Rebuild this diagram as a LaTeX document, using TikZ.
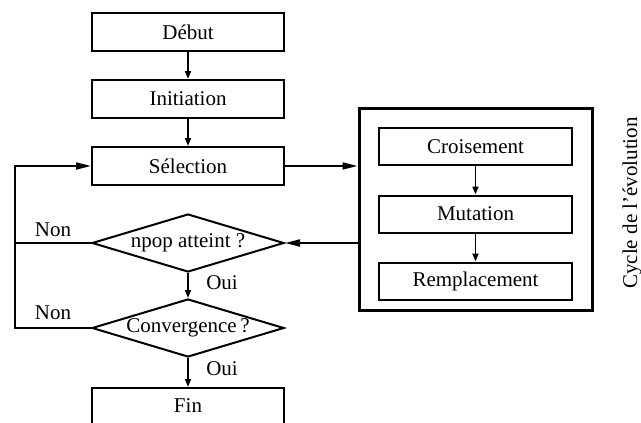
\documentclass[tikz,border=0pt]{standalone}
\usepackage{fontspec}
\setmainfont{Liberation Serif}
\usetikzlibrary{arrows.meta,shapes.geometric}
\begin{document}
\begin{tikzpicture}[x=1pt,y=-1pt,
  font=\fontsize{21}{25}\selectfont,
  box/.style={draw,line width=2pt,minimum width=192pt,minimum height=38pt,inner sep=0pt},
  ibox/.style={draw,line width=2pt,minimum width=193pt,minimum height=37pt,inner sep=0pt},
  dia/.style={draw,diamond,line width=2pt,aspect=3.3,minimum width=192pt,minimum height=58pt,inner sep=0pt},
  link/.style={line width=1.8pt},
  varr/.style={link,-{Triangle[length=8pt,width=6pt]}},
  harr/.style={link,-{Triangle[length=15pt,width=7pt]}},
  lbl/.style={inner sep=0pt}]
\useasboundingbox (0,0) rectangle (641,423);
\clip (0,0) rectangle (641,423);
% left column
\node[box] (debut) at (188,32) {Début};
\node[box] (init) at (188,99) {Initiation};
\node[box] (sel) at (188,166) {Sélection};
\node[dia] (npop) at (188,243) {npop atteint ?};
\node[dia] (conv) at (188,328) {Convergence\,?};
\node[box,minimum height=44pt,anchor=north] (fin) at (188,387) {};
\node[lbl] (fintxt) at (188,406) {Fin};
% right block
\node[draw,line width=3pt,minimum width=233pt,minimum height=202pt,inner sep=0pt] (cycle) at (475.5,209) {};
\node[ibox] (crois) at (475.5,146.5) {Croisement};
\node[ibox] (mut) at (475.5,214) {Mutation};
\node[ibox] (remp) at (475.5,281) {Remplacement};
\node[lbl,rotate=90] (cyc) at (632,203) {Cycle de l’évolution};
% connectors
\draw[varr] (debut) -- (init);
\draw[varr] (init) -- (sel);
\draw[varr] (npop) -- (conv);
\draw[varr] (conv) -- (fin);
\draw[varr] (crois) -- (mut);
\draw[varr] (mut) -- (remp);
\draw[harr] (sel.east) -- (sel.east -| cycle.west);
\draw[harr] (npop.east -| cycle.west) -- (npop.east);
\coordinate (lx) at (15,0);
\draw[link] (npop.west) -- (npop.west -| lx);
\draw[harr] (conv.west) -- (conv.west -| lx) -- (sel.west -| lx) -- (sel.west);
% labels
\node[lbl] (non1) at (53,230) {Non};
\node[lbl] (non2) at (53,313) {Non};
\node[lbl] (oui1) at (222,283) {Oui};
\node[lbl] (oui2) at (222,369) {Oui};
\end{tikzpicture}
\end{document}
